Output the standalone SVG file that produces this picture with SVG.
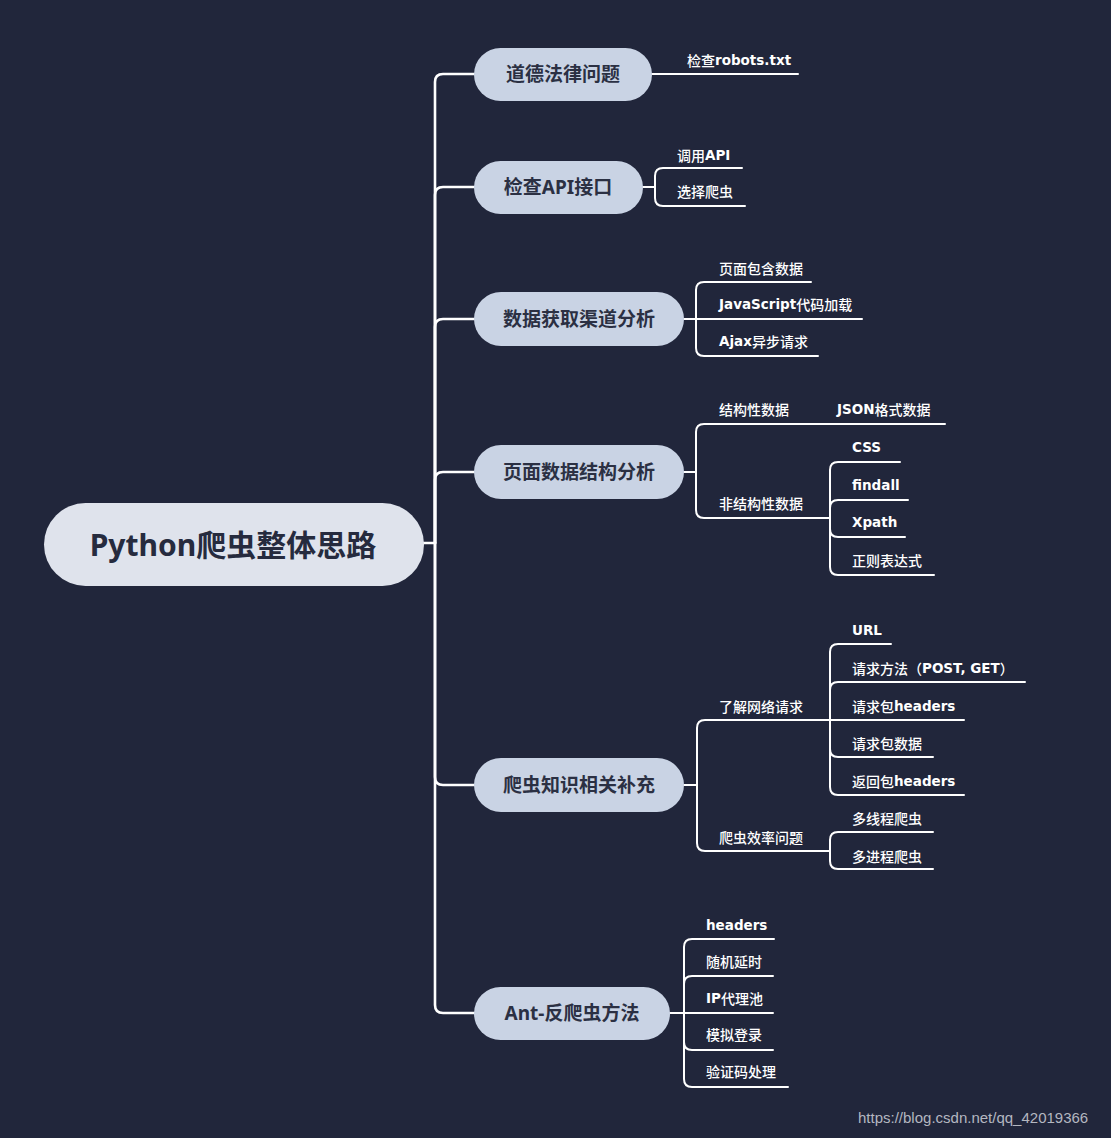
<svg xmlns="http://www.w3.org/2000/svg" width="1111" height="1138" viewBox="0 0 1111 1138">
<style>
.bg{fill:#21263b}
.root{fill:#dfe3ec}
.pill{fill:#c9d3e4}
.rt{font-family:"Noto Sans","Noto Sans CJK SC",sans-serif;font-size:30px;font-weight:bold;fill:#262b3e;text-anchor:middle;dominant-baseline:central}
.lt{font-family:"Noto Sans","Noto Sans CJK SC",sans-serif;font-size:19px;font-weight:bold;fill:#2b3043;text-anchor:middle;dominant-baseline:central}
.ct{font-family:"Noto Sans CJK SC","Noto Sans",sans-serif;font-size:14px;font-weight:500;fill:#ffffff;dominant-baseline:central}
.la{font-family:"DejaVu Sans","Noto Sans CJK SC",sans-serif;font-size:13.5px;font-weight:bold}
.ln{fill:none;stroke:#ffffff;stroke-width:2;stroke-linecap:round}
.tk{fill:none;stroke:#ffffff;stroke-width:2.6;stroke-linecap:round}
.wm{font-family:"Liberation Sans",Arial,sans-serif;font-size:15px;fill:#b4b7c0}
</style>
<rect class="bg" x="0" y="0" width="1111" height="1138"/>
<g id="connectors">
<path class="tk" d="M423 543 L435 543"/>
<path class="tk" d="M435 543 L435 82 Q435 74 443 74 L474 74"/>
<path class="tk" d="M435 543 L435 195 Q435 187 443 187 L474 187"/>
<path class="tk" d="M435 543 L435 327 Q435 319 443 319 L474 319"/>
<path class="tk" d="M435 543 L435 480 Q435 472 443 472 L474 472"/>
<path class="tk" d="M435 543 L435 777 Q435 785 443 785 L474 785"/>
<path class="tk" d="M435 543 L435 1005 Q435 1013 443 1013 L474 1013"/>
<path class="ln" d="M652 74 L798 74"/>
<path class="ln" d="M643 187 L655 187 M655 187 L655 176 Q655 168 663 168 L742 168 M655 187 L655 198 Q655 206 663 206 L745 206"/>
<path class="ln" d="M684 319 L862 319 M696 319 L696 290 Q696 282 704 282 L811 282 M696 319 L696 348 Q696 356 704 356 L818 356"/>
<path class="ln" d="M684 472 L696 472 M696 472 L696 432 Q696 424 704 424 L945 424 M696 472 L696 510 Q696 518 704 518 L830 518"/>
<path class="ln" d="M830 518 L830 470 Q830 462 838 462 L900 462 M830 518 L830 508 Q830 500 838 500 L908 500 M830 518 L830 529 Q830 537 838 537 L905 537 M830 518 L830 567 Q830 575 838 575 L934 575"/>
<path class="ln" d="M684 785 L697 785 M697 785 L697 728 Q697 720 705 720 L964 720 M697 785 L697 843 Q697 851 705 851 L830 851"/>
<path class="ln" d="M830 720 L830 652 Q830 644 838 644 L891 644 M830 720 L830 690 Q830 682 838 682 L1025 682 M830 720 L830 749 Q830 757 838 757 L933 757 M830 720 L830 787 Q830 795 838 795 L964 795"/>
<path class="ln" d="M830 851 L830 840 Q830 832 838 832 L933 832 M830 851 L830 861 Q830 869 838 869 L933 869"/>
<path class="ln" d="M670 1013 L773 1013 M684 1013 L684 947 Q684 939 692 939 L774 939 M684 1013 L684 984 Q684 976 692 976 L773 976 M684 1013 L684 1042 Q684 1050 692 1050 L773 1050 M684 1013 L684 1079 Q684 1087 692 1087 L788 1087"/>
</g>
<g id="root"><rect class="root" x="44" y="503" width="380" height="83" rx="41.5"/><text class="rt" x="233" y="544">Python爬虫整体思路</text></g>
<g id="n1"><rect class="pill" x="474" y="48" width="178" height="53" rx="26.5"/><text class="lt" x="563" y="74">道德法律问题</text></g>
<g id="n1a"><text class="ct" x="687" y="60">检查<tspan class="la">robots.txt</tspan></text></g>
<g id="n2"><rect class="pill" x="474" y="161" width="169" height="53" rx="26.5"/><text class="lt" x="558" y="187">检查API接口</text></g>
<g id="n2a"><text class="ct" x="677" y="155">调用<tspan class="la">API</tspan></text></g>
<g id="n2b"><text class="ct" x="677" y="191">选择爬虫</text></g>
<g id="n3"><rect class="pill" x="474" y="292" width="210" height="54" rx="27"/><text class="lt" x="579" y="319">数据获取渠道分析</text></g>
<g id="n3a"><text class="ct" x="719" y="268">页面包含数据</text></g>
<g id="n3b"><text class="ct" x="719" y="304"><tspan class="la">JavaScript</tspan>代码加载</text></g>
<g id="n3c"><text class="ct" x="719" y="341"><tspan class="la">Ajax</tspan>异步请求</text></g>
<g id="n4"><rect class="pill" x="474" y="445" width="210" height="54" rx="27"/><text class="lt" x="579" y="472">页面数据结构分析</text></g>
<g id="n4a"><text class="ct" x="719" y="409">结构性数据</text></g>
<g id="n4a1"><text class="ct" x="837" y="409"><tspan class="la">JSON</tspan>格式数据</text></g>
<g id="n4b"><text class="ct" x="719" y="503">非结构性数据</text></g>
<g id="n4b1"><text class="ct" x="852" y="447"><tspan class="la">CSS</tspan></text></g>
<g id="n4b2"><text class="ct" x="852" y="485"><tspan class="la">findall</tspan></text></g>
<g id="n4b3"><text class="ct" x="852" y="522"><tspan class="la">Xpath</tspan></text></g>
<g id="n4b4"><text class="ct" x="852" y="560">正则表达式</text></g>
<g id="n5"><rect class="pill" x="474" y="758" width="210" height="54" rx="27"/><text class="lt" x="579" y="785">爬虫知识相关补充</text></g>
<g id="n5a"><text class="ct" x="719" y="706">了解网络请求</text></g>
<g id="n5a1"><text class="ct" x="852" y="630"><tspan class="la">URL</tspan></text></g>
<g id="n5a2"><text class="ct" x="852" y="668">请求方法（<tspan class="la">POST, GET</tspan>）</text></g>
<g id="n5a3"><text class="ct" x="852" y="706">请求包<tspan class="la">headers</tspan></text></g>
<g id="n5a4"><text class="ct" x="852" y="743">请求包数据</text></g>
<g id="n5a5"><text class="ct" x="852" y="781">返回包<tspan class="la">headers</tspan></text></g>
<g id="n5b"><text class="ct" x="719" y="837">爬虫效率问题</text></g>
<g id="n5b1"><text class="ct" x="852" y="818">多线程爬虫</text></g>
<g id="n5b2"><text class="ct" x="852" y="856">多进程爬虫</text></g>
<g id="n6"><rect class="pill" x="474" y="987" width="196" height="53" rx="26.5"/><text class="lt" x="572" y="1013">Ant-反爬虫方法</text></g>
<g id="n6a"><text class="ct" x="706" y="925"><tspan class="la">headers</tspan></text></g>
<g id="n6b"><text class="ct" x="706" y="961">随机延时</text></g>
<g id="n6c"><text class="ct" x="706" y="998"><tspan class="la">IP</tspan>代理池</text></g>
<g id="n6d"><text class="ct" x="706" y="1034">模拟登录</text></g>
<g id="n6e"><text class="ct" x="706" y="1071">验证码处理</text></g>
<text class="wm" x="858" y="1123">https://blog.csdn.net/qq_42019366</text>
</svg>
